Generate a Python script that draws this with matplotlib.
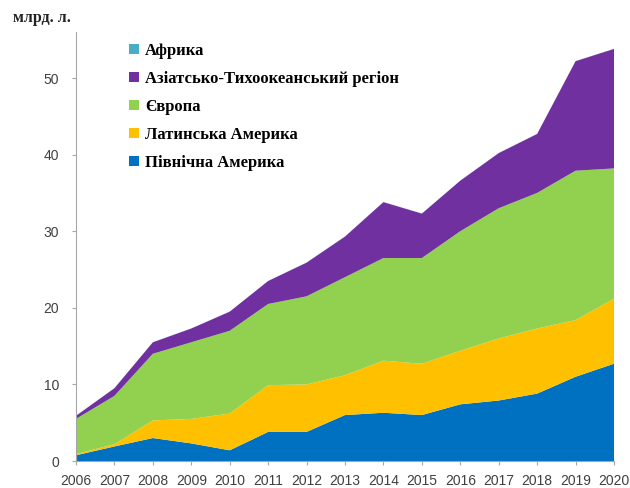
import numpy as np
import matplotlib.pyplot as plt

years = list(range(2006, 2021))

# values per region, bn litres
north_america = [0.75, 1.9, 3.0, 2.3, 1.4, 3.8, 3.8, 6.0, 6.3, 6.0, 7.4, 7.9, 8.8, 11.0, 12.7]
latin_america = [0.15, 0.3, 2.3, 3.2, 4.8, 6.1, 6.2, 5.2, 6.8, 6.7, 7.0, 8.1, 8.5, 7.4, 8.5]
europe = [4.6, 6.3, 8.7, 10.0, 10.8, 10.6, 11.5, 12.8, 13.4, 13.8, 15.6, 17.0, 17.7, 19.5, 17.0]
asia_pacific = [0.4, 1.0, 1.5, 1.8, 2.5, 3.0, 4.4, 5.3, 7.3, 5.8, 6.6, 7.2, 7.7, 14.3, 15.6]
africa = [0.01, 0.01, 0.01, 0.01, 0.01, 0.01, 0.01, 0.01, 0.01, 0.01, 0.01, 0.01, 0.01, 0.01, 0.01]

labels = ["Північна Америка", "Латинська Америка", "Європа",
          "Азіатсько-Тихоокеанський регіон", "Африка"]
colors = ["#0070C0", "#FFC000", "#92D050", "#7030A0", "#4BACC6"]

fig = plt.figure(figsize=(6.3, 4.88), dpi=100)
ax = fig.add_axes([0.1206, 0.0553, 0.854, 0.879])

ax.stackplot(years, north_america, latin_america, europe, asia_pacific, africa,
             labels=labels, colors=colors, linewidth=0)

ax.set_xlim(2006, 2020)
ax.set_ylim(0, 56)
ax.set_xticks(years)
ax.set_yticks([0, 10, 20, 30, 40, 50])

for s in ["top", "right"]:
    ax.spines[s].set_visible(False)
for s in ["left", "bottom"]:
    ax.spines[s].set_color("#A6A6A6")
ax.tick_params(axis="both", colors="#A6A6A6", labelcolor="#404040",
               labelsize=10, length=3)
ax.tick_params(axis="x", pad=6)
ax.tick_params(axis="y", pad=9)
for t in ax.get_xticklabels() + ax.get_yticklabels():
    t.set_fontfamily("Liberation Sans")

fig.text(0.02, 0.955, "млрд. л.", fontfamily="Liberation Serif",
         fontweight="bold", fontsize=11.5, color="#222222")

h, l = ax.get_legend_handles_labels()
leg = ax.legend(h[::-1], l[::-1], loc="upper left", bbox_to_anchor=(0.07, 1.01),
                frameon=False, handlelength=0.6, handleheight=0.6,
                handletextpad=0.4, labelspacing=0.72,
                prop={"family": "Liberation Serif", "weight": "bold", "size": 12})

plt.savefig("out.png", dpi=100)
